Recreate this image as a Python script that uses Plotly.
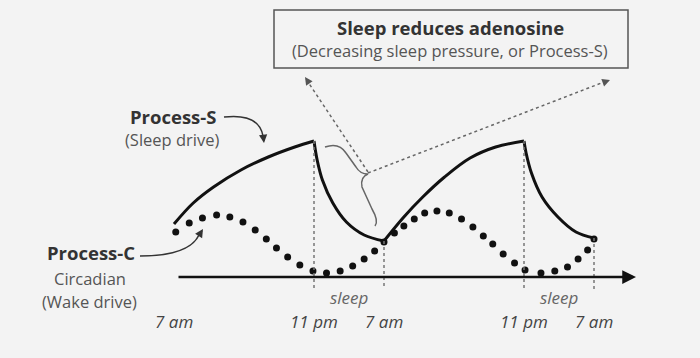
import plotly.graph_objects as go

W, H = 700, 358
BG = "#f3f3f3"
FONT = "Open Sans"

# ---- data (hours from 7 am on day 1; level in arbitrary units, axis = 0) ----
s_rise1_t = [0, 2.2, 4.52, 7.65, 10.78, 13.8, 16]
s_rise1_y = [53, 74, 90, 107, 120, 130, 136]
s_drop1_t = [16, 16.36, 16.96, 18.15, 19.7, 21.73, 24]
s_drop1_y = [136, 117, 97, 74, 55, 42, 36]
s_rise2_t = [24, 26.27, 28.43, 30.92, 33.84, 36.76, 40]
s_rise2_y = [36, 60, 80, 100, 119, 130, 136]
s_drop2_t = [40, 40.24, 40.85, 42.06, 43.88, 45.94, 48]
s_drop2_y = [136, 124, 104, 80, 60, 45, 39]

c_t = [0.2, 1.74, 3.25, 4.87, 6.38, 7.88, 9.28, 10.55, 11.71, 12.99, 14.38, 15.88,
       17.43, 18.99, 20.42, 21.73, 22.93, 24, 25.19, 26.27, 27.46, 28.65, 30.05,
       31.46, 32.86, 34.16, 35.35, 36.43, 37.62, 38.92, 40.12, 41.94, 43.52, 44.97,
       46.18, 47.27, 48]
c_y = [45, 54, 59, 62, 60, 55, 47, 38, 29, 20, 12, 6,
       4, 6, 11, 18, 26, 35, 44, 51, 58, 64, 66,
       64, 58, 50, 41, 33, 23, 14, 7, 4, 6, 10,
       18, 27, 38]

tick_hours = [0, 16, 24, 40, 48]
tick_labels = ["7 am", "11 pm", "7 am", "11 pm", "7 am"]
marker_tops = [136, 136, 36, 136, 39]
sleep_mid = [20, 44]
sleep_labels = ["sleep", "sleep"]

# axis mapping: px = 174 + 8.75 * t ; py = 277 - y
X0, XS, Y0 = 174.0, 8.75, 277.0
xr = [(0 - X0) / XS, (W - X0) / XS]
yr = [Y0 - H, Y0]


def px(x):
    return x / W


def py(y):
    return 1 - y / H


fig = go.Figure()
for tt, yy in [(s_rise1_t, s_rise1_y), (s_drop1_t, s_drop1_y),
               (s_rise2_t, s_rise2_y), (s_drop2_t, s_drop2_y)]:
    fig.add_trace(go.Scatter(x=tt, y=yy, mode="lines",
                             line=dict(color="#111111", width=3, shape="spline"),
                             hoverinfo="skip", showlegend=False))
fig.add_trace(go.Scatter(x=c_t, y=c_y, mode="markers",
                         marker=dict(color="#111111", size=7),
                         hoverinfo="skip", showlegend=False))

shapes = []
# vertical dotted markers
for h, top in zip(tick_hours[1:], marker_tops[1:]):
    shapes.append(dict(type="line", xref="x", yref="y", x0=h, x1=h, y0=top, y1=-12,
                       line=dict(color="#777777", width=1.5, dash="dot")))
# box
shapes.append(dict(type="rect", xref="paper", yref="paper",
                   x0=px(274), x1=px(628), y0=py(68), y1=py(10),
                   line=dict(color="#555555", width=1.5), fillcolor=BG))
# dotted arrows to box
shapes.append(dict(type="line", xref="paper", yref="paper",
                   x0=px(368), y0=py(172), x1=px(308), y1=py(82),
                   line=dict(color="#666666", width=1.5, dash="dot")))
shapes.append(dict(type="line", xref="paper", yref="paper",
                   x0=px(368), y0=py(173), x1=px(604), y1=py(82),
                   line=dict(color="#666666", width=1.5, dash="dot")))


def P(x, y):
    return f"{px(x):.5f},{py(y):.5f}"


brace = ("M " + P(325, 147) + " Q " + P(339, 142) + " " + P(346, 153) +
         " L " + P(356, 167) + " Q " + P(360, 174) + " " + P(368, 174) +
         " Q " + P(360, 177) + " " + P(362, 187) +
         " L " + P(372, 209) + " Q " + P(379, 221) + " " + P(375, 226))
shapes.append(dict(type="path", xref="paper", yref="paper", path=brace,
                   line=dict(color="#666666", width=1.5)))
# curved pointer arrows
shapes.append(dict(type="path", xref="paper", yref="paper",
                   path="M " + P(224, 117) + " Q " + P(259, 113) + " " + P(263, 136),
                   line=dict(color="#333333", width=1.5)))
shapes.append(dict(type="path", xref="paper", yref="paper",
                   path="M " + P(140, 256) + " Q " + P(189, 256) + " " + P(199, 235),
                   line=dict(color="#333333", width=1.5)))

ann = []


def text(x, y, s, size, color="#333333", bold=False, italic=False, xref="paper", yref="paper"):
    ann.append(dict(x=x, y=y, xref=xref, yref=yref, text=s, showarrow=False,
                    xanchor="center", yanchor="middle",
                    font=dict(family=FONT, size=size, color=color,
                              weight="bold" if bold else "normal",
                              style="italic" if italic else "normal")))


text(px(450), py(27), "Sleep reduces adenosine", 18.5, "#333333", bold=True)
text(px(450), py(50), "(Decreasing sleep pressure, or Process-S)", 16.5, "#555555")
text(px(173), py(116), "Process-S", 18.5, "#333333", bold=True)
text(px(172), py(139), "(Sleep drive)", 16.5, "#555555")
text(px(91), py(253), "Process-C", 18.5, "#333333", bold=True)
text(px(90), py(278), "Circadian", 16.5, "#555555")
text(px(90), py(301), "(Wake drive)", 16.5, "#555555")
for h, lab in zip(tick_hours, tick_labels):
    text(h, py(321), lab, 17, "#444444", italic=True, xref="x")
for h, lab in zip(sleep_mid, sleep_labels):
    text(h, py(297), lab, 17, "#666666", italic=True, xref="x")


def arrow(x, y, ax, ay, color, width, size, xref="paper", yref="paper"):
    ann.append(dict(x=x, y=y, xref=xref, yref=yref, ax=ax, ay=ay, text="",
                    showarrow=True, arrowhead=2, arrowsize=size, arrowwidth=width,
                    arrowcolor=color, standoff=0, startstandoff=0))


# time axis with arrow
arrow((636 - X0) / XS, 0, -459, 0, "#111111", 2.5, 1.1, xref="x", yref="y")
# arrowheads
arrow(px(305), py(77), 5, 7.5, "#555555", 1.3, 1.2)
arrow(px(610), py(80), -8, 3, "#555555", 1.3, 1.2)
arrow(px(264), py(143), -1, -9, "#333333", 1.5, 1.1)
arrow(px(203), py(229), -5, 8, "#333333", 1.5, 1.1)

fig.update_layout(
    width=W, height=H, margin=dict(l=0, r=0, t=0, b=0),
    paper_bgcolor=BG, plot_bgcolor=BG,
    xaxis=dict(range=xr, visible=False, fixedrange=True),
    yaxis=dict(range=yr, visible=False, fixedrange=True),
    shapes=shapes, annotations=ann, showlegend=False,
)
fig.write_html("out.html", config={"displayModeBar": False},
               post_script="document.body.style.margin='0';"
                           "document.body.style.background='" + BG + "';")
